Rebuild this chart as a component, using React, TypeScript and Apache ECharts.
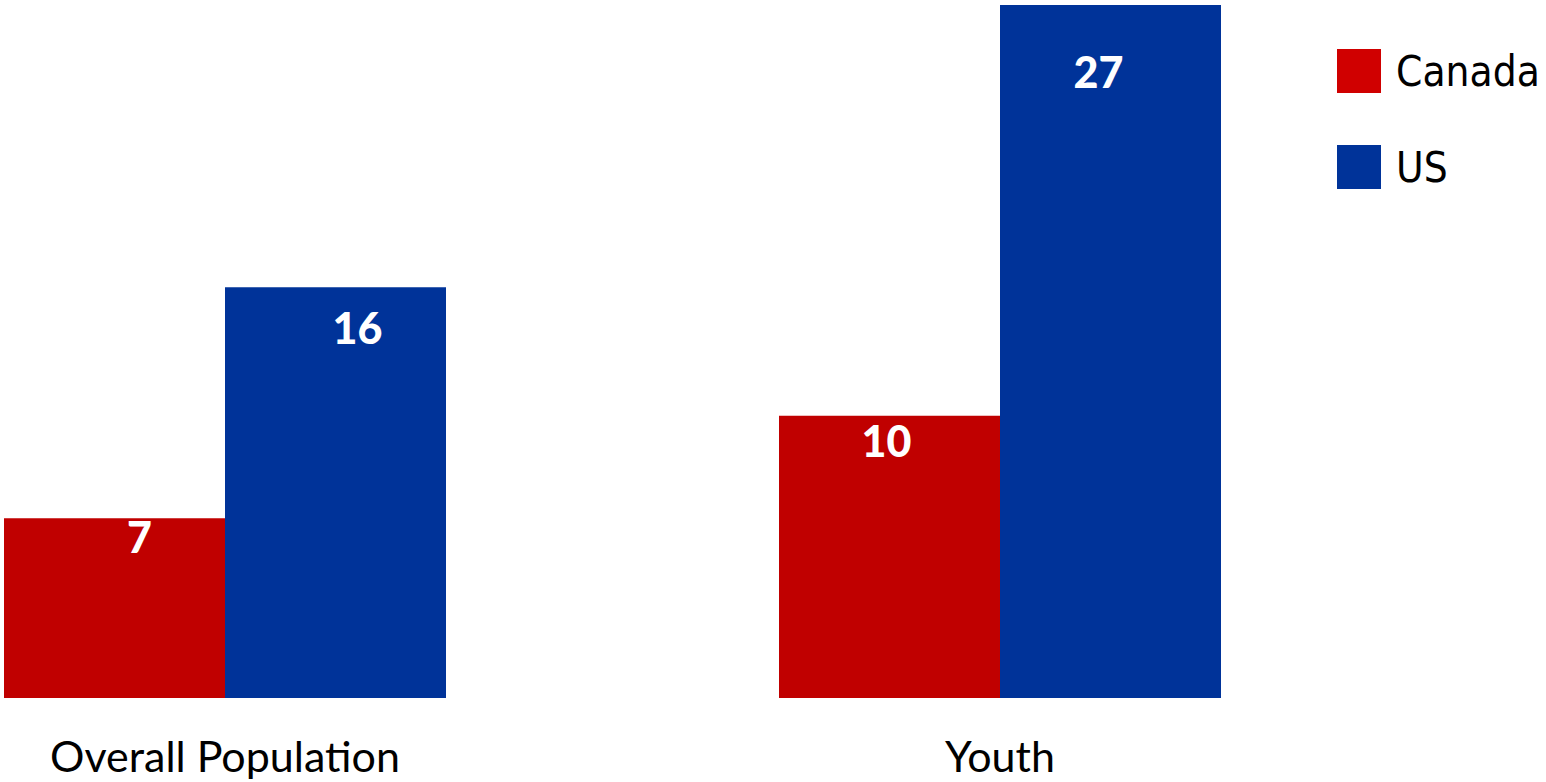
import React, { useEffect, useRef } from "react";
import * as echarts from "echarts";

const categories = ["Overall Population", "Youth"];
const seriesNames = ["Canada", "US"];
const canadaValues = [7, 11];
const canadaLabels = ["7", "10"];
const usValues = [16, 27];
const usLabels = ["16", "27"];

const canadaLabelOffsets = [[25, -3], [-3, 3]];
const usLabelOffsets = [[22, 19], [-12, 45]];

export default function App() {
  const ref = useRef<HTMLDivElement>(null);
  useEffect(() => {
    document.body.style.margin = "0";
    const chart = echarts.init(ref.current!, null, { renderer: "svg" });
    const labelStyle = {
      show: true,
      position: "insideTop",
      distance: 0,
      color: "#ffffff",
      fontFamily: "Lato",
      fontWeight: 900,
      fontSize: 43,
    };
    const mk = (values: number[], labels: string[], offsets: number[][]) =>
      values.map((v, i) => ({
        value: v,
        label: { ...labelStyle, offset: offsets[i], formatter: () => labels[i] },
      }));
    chart.setOption({
      animation: false,
      grid: {
        left: -162.5,
        width: 1550,
        top: 5,
        height: 693,
        containLabel: false,
        outerBoundsMode: "none",
      },
      legend: {
        orient: "vertical",
        left: 1332,
        top: 40,
        itemWidth: 44,
        itemHeight: 44,
        itemGap: 44,
        icon: "rect",
        data: [
          { name: seriesNames[0], itemStyle: { color: "#D00000" } },
          { name: seriesNames[1], itemStyle: { color: "#003399" } },
        ],
        textStyle: {
          fontFamily:
            "'Liberation Sans Narrow', 'DejaVu Sans Condensed', 'Roboto Condensed', 'Open Sans Condensed', Roboto, sans-serif",
          fontSize: 42,
          lineHeight: 52,
          color: "#000",
          padding: [0, 0, 0, 10],
        },
      },
      xAxis: {
        type: "category",
        data: categories,
        axisLine: { show: false },
        axisTick: { show: false },
        axisLabel: {
          fontFamily: "Lato",
          fontSize: 43,
          lineHeight: 43,
          color: "#000",
          margin: 36,
        },
      },
      yAxis: {
        type: "value",
        min: 0,
        max: 27,
        show: false,
        splitLine: { show: false },
      },
      series: [
        {
          name: seriesNames[0],
          type: "bar",
          barWidth: 221,
          barGap: "0%",
          itemStyle: { color: "#C00000" },
          data: mk(canadaValues, canadaLabels, canadaLabelOffsets),
        },
        {
          name: seriesNames[1],
          type: "bar",
          barWidth: 221,
          barGap: "0%",
          itemStyle: { color: "#003399" },
          data: mk(usValues, usLabels, usLabelOffsets),
        },
      ],
    });
    return () => chart.dispose();
  }, []);
  return <div ref={ref} style={{ width: 1546, height: 782 }} />;
}
